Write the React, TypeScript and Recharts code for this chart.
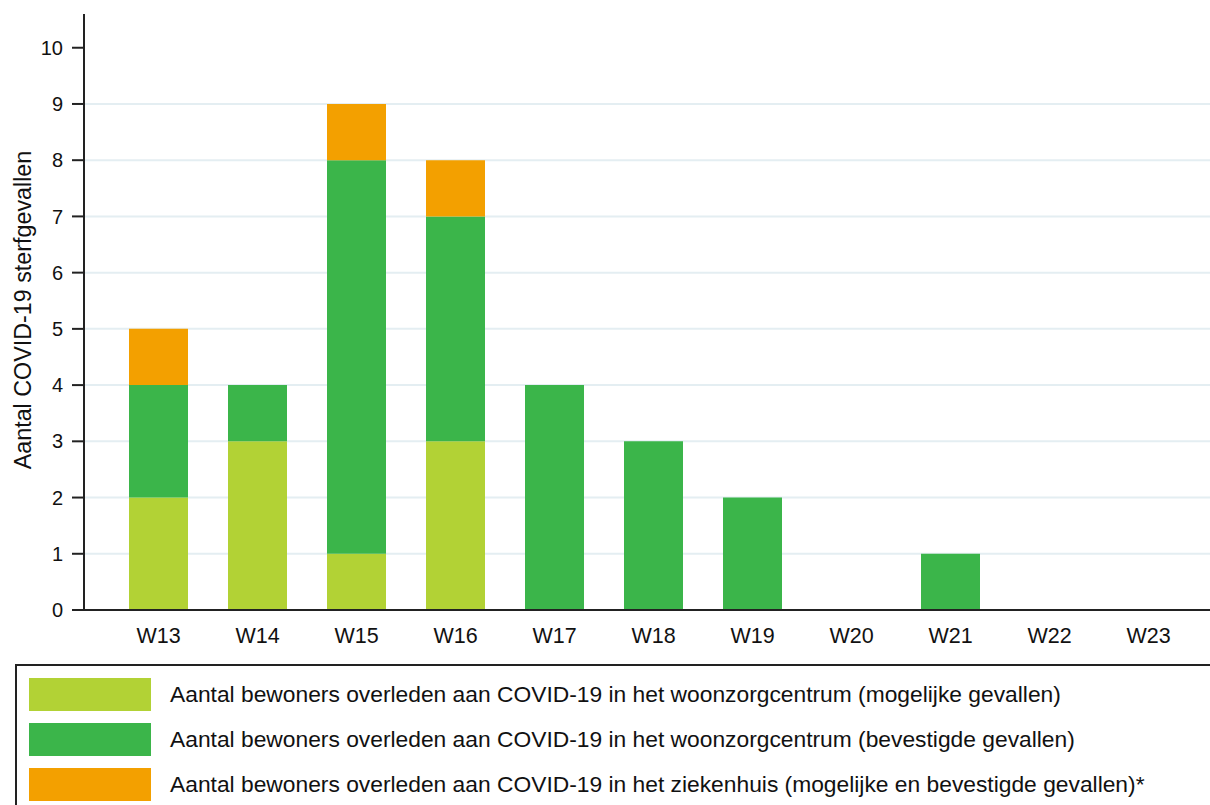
import React from 'react';
import { BarChart, Bar, XAxis, YAxis, CartesianGrid, Legend } from 'recharts';

const weeks = ['W13', 'W14', 'W15', 'W16', 'W17', 'W18', 'W19', 'W20', 'W21', 'W22', 'W23'];
const possibleWzc = [2, 3, 1, 3, 0, 0, 0, 0, 0, 0, 0];
const confirmedWzc = [2, 1, 7, 4, 4, 3, 2, 0, 1, 0, 0];
const hospital = [1, 0, 1, 1, 0, 0, 0, 0, 0, 0, 0];
const yTicks = [0, 1, 2, 3, 4, 5, 6, 7, 8, 9, 10];
const gridValues = [1, 2, 3, 4, 5, 6, 7, 8, 9];

const seriesNames = [
  'Aantal bewoners overleden aan COVID-19 in het woonzorgcentrum (mogelijke gevallen)',
  'Aantal bewoners overleden aan COVID-19 in het woonzorgcentrum (bevestigde gevallen)',
  'Aantal bewoners overleden aan COVID-19 in het ziekenhuis (mogelijke en bevestigde gevallen)*',
];
const colors = ['#B2D235', '#3BB54A', '#F3A000'];

const data = weeks.map((w, i) => ({
  week: w,
  possible: possibleWzc[i],
  confirmed: confirmedWzc[i],
  hospital: hospital[i],
}));

const FONT = 'Arial, "Liberation Sans", sans-serif';

const LegendBox = () => {
  return (
    <div
      style={{
        position: 'absolute',
        left: 15,
        top: 664,
        width: 1210,
        height: 160,
        border: '2px solid #222',
        boxSizing: 'border-box',
        fontFamily: FONT,
      }}
    >
      {seriesNames.map((name, i) => (
        <div
          key={i}
          style={{ position: 'absolute', left: 12, top: 11 + i * 45.3, height: 34, display: 'flex', alignItems: 'center' }}
        >
          <div style={{ width: 122, height: 33, background: colors[i] }} />
          <span style={{ marginLeft: 19, fontSize: 22.8, color: '#111', whiteSpace: 'nowrap' }}>{name}</span>
        </div>
      ))}
    </div>
  );
};

const YLabel = (props: any) => {
  const vb = props.viewBox || { x: 0, y: 0, width: 0, height: 0 };
  const cx = 23;
  const cy = vb.y + vb.height / 2 - 2;
  return (
    <text
      x={cx}
      y={cy}
      transform={`rotate(-90 ${cx} ${cy})`}
      textAnchor="middle"
      dominantBaseline="central"
      fontSize={23.3}
      fontFamily={FONT}
      fill="#111"
    >
      Aantal COVID-19 sterfgevallen
    </text>
  );
};

export default function App() {
  return (
    <div style={{ position: 'absolute', left: 0, top: 0, width: 1210, height: 805, background: '#fff', overflow: 'hidden' }}>
      <BarChart
        width={1210}
        height={805}
        data={data}
        margin={{ top: 14, right: 0, left: 0, bottom: 145 }}
        barSize={59}
      >
        <CartesianGrid
          vertical={false}
          horizontalValues={gridValues}
          stroke="#E4EEF2"
          strokeWidth={2}
        />
        <XAxis
          dataKey="week"
          tickLine={false}
          tickSize={0}
          tickMargin={18}
          padding={{ left: 25, right: 12 }}
          axisLine={{ stroke: '#222', strokeWidth: 2 }}
          tick={{ fontSize: 21.5, fill: '#111', fontFamily: FONT }}
          height={50}
          interval={0}
        />
        <YAxis
          domain={[0, 10.6]}
          ticks={yTicks}
          width={84}
          tickSize={12}
          tickMargin={9}
          allowDataOverflow
          axisLine={{ stroke: '#222', strokeWidth: 2 }}
          tickLine={{ stroke: '#222', strokeWidth: 2 }}
          tick={{ fontSize: 20, fill: '#111', fontFamily: FONT }}
          label={<YLabel />}
        />
        <Legend content={<LegendBox />} wrapperStyle={{ position: 'absolute', left: 0, top: 0, width: 0, height: 0 }} />
        <Bar dataKey="possible" stackId="a" name={seriesNames[0]} fill={colors[0]} isAnimationActive={false} />
        <Bar dataKey="confirmed" stackId="a" name={seriesNames[1]} fill={colors[1]} isAnimationActive={false} />
        <Bar dataKey="hospital" stackId="a" name={seriesNames[2]} fill={colors[2]} isAnimationActive={false} />
      </BarChart>
    </div>
  );
}
